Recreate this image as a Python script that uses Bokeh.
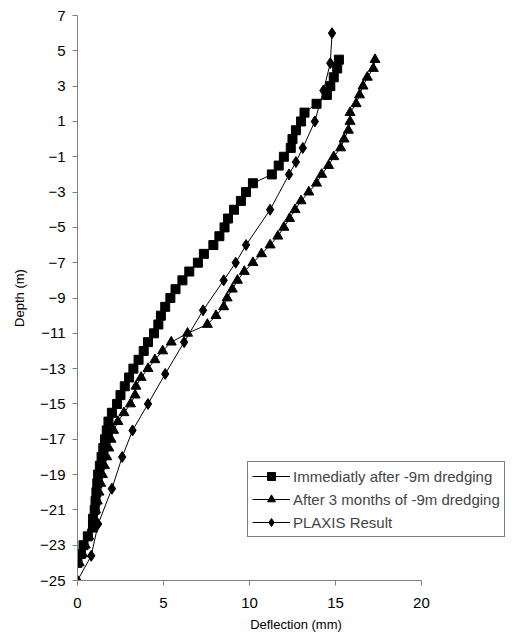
from bokeh.plotting import figure
from bokeh.models import Range1d, FixedTicker, Legend, LegendItem
from bokeh.embed import file_html
from bokeh.resources import INLINE

# Immediately after -9m dredging (squares)
imm_depth = [4.5, 4.0, 3.5, 3.0, 2.5, 2.0, 1.5, 1.0, 0.5, 0.0, -0.5, -1.0, -1.5, -2.0,
             -2.5, -3.0, -3.5, -4.0, -4.5, -5.0, -5.5, -6.0, -6.5, -7.0, -7.5, -8.0,
             -8.5, -9.0, -9.5, -10.0, -10.5, -11.0, -11.5, -12.0, -12.5, -13.0, -13.5,
             -14.0, -14.5, -15.0, -15.5, -16.0, -16.5, -17.0, -17.5, -18.0, -18.5,
             -19.0, -19.5, -20.0, -20.5, -21.0, -21.5, -22.0, -22.5, -23.0, -23.5, -24.0]
imm_defl = [15.2, 15.1, 14.9, 14.7, 14.5, 13.9, 13.2, 13.0, 12.7, 12.5, 12.4, 12.0, 11.7, 11.3,
            10.2, 9.8, 9.5, 9.1, 8.75, 8.55, 8.25, 7.9, 7.35, 7.0, 6.5, 6.1,
            5.7, 5.4, 5.1, 4.85, 4.7, 4.45, 4.1, 3.85, 3.55, 3.25, 3.0,
            2.75, 2.5, 2.3, 2.0, 1.8, 1.7, 1.6, 1.5, 1.4, 1.3,
            1.2, 1.15, 1.1, 1.05, 1.0, 0.9, 0.9, 0.6, 0.35, 0.2, 0.0]

# After 3 months of -9m dredging (triangles)
m3_depth = [4.5, 4.0, 3.5, 3.0, 2.5, 2.0, 1.5, 1.0, 0.5, 0.0, -0.5, -1.0, -1.5, -2.0,
            -2.5, -3.0, -3.5, -4.0, -4.5, -5.0, -5.5, -6.0, -6.5, -7.0, -7.5, -8.0,
            -8.5, -9.0, -9.5, -10.0, -10.5, -11.0, -11.5, -12.0, -12.5, -13.0, -13.5,
            -14.0, -14.5, -15.0, -15.5, -16.0, -16.5, -17.0, -17.5, -18.0, -18.5,
            -19.0, -19.5, -20.0, -20.5, -21.0, -21.5, -22.0, -22.5, -23.0, -23.5, -24.0]
m3_defl = [17.3, 17.2, 16.85, 16.6, 16.4, 16.2, 15.85, 15.85, 15.75, 15.5, 15.3, 14.9, 14.6, 14.2,
           13.9, 13.45, 13.0, 12.65, 12.33, 12.0, 11.65, 11.2, 10.7, 10.2, 9.7, 9.3,
           9.0, 8.7, 8.5, 8.05, 7.55, 6.4, 5.45, 4.95, 4.5, 4.1, 3.7,
           3.4, 3.35, 3.08, 2.7, 2.35, 2.1, 1.95, 1.82, 1.7, 1.57,
           1.45, 1.35, 1.25, 1.15, 1.05, 0.95, 0.85, 0.65, 0.45, 0.3, 0.1]

# PLAXIS Result (diamonds)
plx_depth = [6.0, 4.3, 2.75, 1.0, -0.5, -1.3, -2.0, -4.0, -6.0, -7.0, -8.0, -9.7,
             -11.5, -13.3, -15.0, -16.5, -18.0, -19.8, -21.8, -23.6, -25.0]
plx_defl = [14.8, 14.7, 14.3, 13.8, 13.1, 12.7, 12.3, 11.2, 9.8, 9.2, 8.5, 7.3,
            6.2, 5.1, 4.1, 3.2, 2.6, 2.0, 1.2, 0.8, 0.0]

x_ticks = [0, 5, 10, 15, 20]
y_ticks = [7, 5, 3, 1, -1, -3, -5, -7, -9, -11, -13, -15, -17, -19, -21, -23, -25]

labels = ["Immediatly after -9m dredging", "After 3 months of -9m dredging", "PLAXIS Result"]

FONT = "Liberation Sans"

# frame spans to the right edge so the legend is not clipped; the x axis itself stops at 20
p = figure(width=514, height=643, x_range=Range1d(0, 25.41), y_range=Range1d(-25, 7),
           output_backend="svg", toolbar_location=None,
           min_border_left=77, min_border_right=0, min_border_top=15, min_border_bottom=63)
p.grid.visible = False
p.outline_line_color = None
p.xaxis.ticker = FixedTicker(ticks=x_ticks)
p.yaxis.ticker = FixedTicker(ticks=y_ticks)
p.xaxis.bounds = (0, 20)
for ax in (p.xaxis[0], p.yaxis[0]):
    ax.axis_line_color = "#808080"
    ax.major_tick_line_color = "#808080"
    ax.minor_tick_line_color = None
    ax.major_tick_in = 0
    ax.major_tick_out = 5
    ax.major_label_text_font = FONT
    ax.major_label_text_font_size = "15px"
    ax.major_label_text_color = "black"
    ax.axis_label_text_font = FONT
    ax.axis_label_text_font_size = "13px"
    ax.axis_label_text_font_style = "normal"
    ax.axis_label_text_color = "black"
p.xaxis.axis_label = "Deflection (mm)"
p.yaxis.axis_label = "Depth (m)"
p.xaxis.major_label_standoff = 12
p.xaxis.axis_label_standoff = 6
p.yaxis.major_label_standoff = 7
p.yaxis.axis_label_standoff = 10

l1 = p.line(imm_defl, imm_depth, line_color="black", line_width=1)
s1 = p.scatter(imm_defl, imm_depth, marker="square", size=9, color="black")
l2 = p.line(m3_defl, m3_depth, line_color="black", line_width=1)
s2 = p.scatter(m3_defl, m3_depth, marker="triangle", size=10, color="black")
l3 = p.line(plx_defl, plx_depth, line_color="black", line_width=1)
s3 = p.scatter(plx_defl, plx_depth, marker="diamond", size=11, color="black")

legend = Legend(items=[LegendItem(label=labels[0], renderers=[l1, s1]),
                       LegendItem(label=labels[1], renderers=[l2, s2]),
                       LegendItem(label=labels[2], renderers=[l3, s3])],
                location=(170, 43))
legend.border_line_color = "black"
legend.border_line_width = 1
legend.background_fill_color = "white"
legend.background_fill_alpha = 1
legend.label_text_font = FONT
legend.label_text_font_size = "15px"
legend.glyph_width = 38
legend.glyph_height = 20
legend.label_standoff = 3
legend.padding = 4
legend.spacing = 3
legend.margin = 0
p.add_layout(legend, "center")

open("out.html", "w").write(file_html(p, INLINE))
